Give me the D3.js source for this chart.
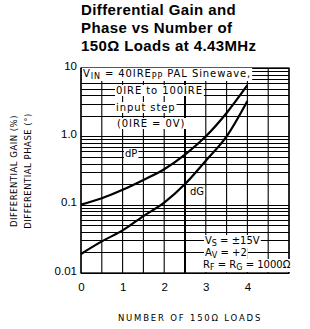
<!DOCTYPE html>
<html>
<head>
<meta charset="utf-8">
<script src="https://cdn.jsdelivr.net/npm/d3@7"></script>
<style>
  body { margin: 0; background: #fff; }
  svg { display: block; }
  .tick text { font-family: "Liberation Sans", Arial, sans-serif; }
</style>
</head>
<body>
<script>
// data
var loads = [0, 0.5, 1, 1.5, 2, 2.5, 3, 3.5, 4];
var dP = [0.1, 0.124, 0.165, 0.23, 0.33, 0.54, 1.0, 2.2, 5.6];
var dG = [0.019, 0.029, 0.042, 0.068, 0.107, 0.2, 0.44, 1.0, 3.3];
var xTicks = [0, 1, 2, 3, 4];
var yTicks = [0.01, 0.1, 1, 10];
var yTickLabels = ["0.01", "0.1", "1.0", "10"];

var W = 310, H = 329;
var margin = {top: 68, right: 21, bottom: 56, left: 81};
var width = W - margin.left - margin.right,
    height = H - margin.top - margin.bottom;

var svg = d3.select("body").append("svg")
    .attr("width", W).attr("height", H);

var g = svg.append("g")
    .attr("transform", "translate(" + margin.left + "," + margin.top + ")");

var x = d3.scaleLinear().domain([0, 5]).range([0, width]);
var y = d3.scaleLog().domain([0.01, 10]).range([height, 0]);

var techFont = "'DejaVu Sans', sans-serif";

// title
var title = ["Differential Gain and", "Phase vs Number of", "150\u03A9 Loads at 4.43MHz"];
svg.append("g").selectAll("text")
    .data(title).enter().append("text")
    .attr("x", 81)
    .attr("y", function(d, i) { return 15 + i * 18; })
    .style("font-family", "'Liberation Sans', Arial, sans-serif")
    .style("font-weight", "bold")
    .style("font-size", "15px")
    .style("letter-spacing", "0.4px")
    .text(function(d) { return d; });

// grid - vertical every 0.5
var vLines = d3.range(0, 5.01, 0.5);
g.selectAll(".vgrid").data(vLines).enter().append("line")
    .attr("x1", function(d) { return x(d); })
    .attr("x2", function(d) { return x(d); })
    .attr("y1", 0).attr("y2", height)
    .attr("stroke", "#000")
    .attr("stroke-width", function(d) { return d == 2.5 ? 2 : 1.1; });

// grid - horizontal log minors
var hLines = [];
[0.01, 0.1, 1].forEach(function(dec) {
    for (var k = 1; k <= 9; k++) hLines.push(dec * k);
});
hLines.push(10);
g.selectAll(".hgrid").data(hLines).enter().append("line")
    .attr("x1", 0).attr("x2", width)
    .attr("y1", function(d) { return Math.round(y(d)) + 0.5; })
    .attr("y2", function(d) { return Math.round(y(d)) + 0.5; })
    .attr("stroke", "#000")
    .attr("stroke-width", 1);

// frame
g.append("rect")
    .attr("width", width).attr("height", height)
    .attr("fill", "none").attr("stroke", "#000").attr("stroke-width", 1.3);

// helper: text line with white mask behind it
function maskedText(parent, xx, yy, parts, size, spacing) {
    var grp = parent.append("g");
    var bg = grp.append("rect").attr("fill", "#fff");
    var t = grp.append("text")
        .attr("x", xx).attr("y", yy)
        .style("font-family", techFont)
        .style("font-size", size + "px")
        .style("letter-spacing", (spacing || 0) + "px");
    parts.forEach(function(p) {
        var ts = t.append("tspan").text(p.t);
        if (p.sub) ts.attr("dy", 2).style("font-size", (size - 2) + "px");
        if (p.back) ts.attr("dy", -2);
    });
    var b = t.node().getBBox();
    bg.attr("x", b.x - 1).attr("y", b.y).attr("width", b.width + 2).attr("height", b.height);
    return grp;
}

// curves
var line = d3.line()
    .curve(d3.curveMonotoneX)
    .x(function(d, i) { return x(loads[i]); })
    .y(function(d) { return y(d); });

// labels on curves
maskedText(g, 44, 89, [{t: "dP"}], 10);
maskedText(g, 109, 127, [{t: "dG"}], 10);

g.append("path").datum(dP)
    .attr("d", line)
    .attr("fill", "none").attr("stroke", "#000").attr("stroke-width", 2.2);
g.append("path").datum(dG)
    .attr("d", line)
    .attr("fill", "none").attr("stroke", "#000").attr("stroke-width", 2.2);

// annotation top-left
maskedText(g, 2, 9, [{t: "V"}, {t: "IN", sub: true}, {t: " = 40IRE", back: true}, {t: "PP", sub: true}, {t: " PAL Sinewave,", back: true}], 10, 0.9);
maskedText(g, 35, 26, [{t: "0IRE to 100IRE"}], 10, 0.9);
maskedText(g, 35, 43, [{t: "input step"}], 10, 0.9);
maskedText(g, 36, 59, [{t: "(0IRE = 0V)"}], 10, 0.9);

// annotation bottom-right
maskedText(g, 124, 176, [{t: "V"}, {t: "S", sub: true}, {t: " = \u00B115V", back: true}], 10);
maskedText(g, 124, 188, [{t: "A"}, {t: "V", sub: true}, {t: " = +2", back: true}], 10);
maskedText(g, 122, 200, [{t: "R"}, {t: "F", sub: true}, {t: " = R", back: true}, {t: "G", sub: true}, {t: " = 1000\u03A9", back: true}], 10);

// axes
var xAxis = g.append("g")
    .attr("transform", "translate(0," + height + ")")
    .call(d3.axisBottom(x).tickValues(xTicks).tickSize(0).tickPadding(10)
        .tickFormat(d3.format("d")));
xAxis.select(".domain").remove();
xAxis.selectAll("text").style("font-size", "11.5px").attr("fill", "#000");

var yAxis = g.append("g")
    .call(d3.axisLeft(y).tickValues(yTicks).tickSize(0).tickPadding(4)
        .tickFormat(function(d, i) { return yTickLabels[i]; }));
yAxis.select(".domain").remove();
yAxis.selectAll("text").style("font-size", "11.5px").attr("fill", "#000")
    .attr("dy", "0.1em");

// axis titles
svg.append("text")
    .attr("x", 190).attr("y", 321)
    .attr("text-anchor", "middle")
    .style("font-family", techFont)
    .style("font-size", "8.5px")
    .style("letter-spacing", "1.8px")
    .text("NUMBER OF 150\u03A9 LOADS");

svg.append("text")
    .attr("transform", "translate(17,171) rotate(-90)")
    .attr("text-anchor", "middle")
    .style("font-family", techFont)
    .style("font-size", "8.5px")
    .style("letter-spacing", "0.5px")
    .text("DIFFERENTIAL GAIN (%)");

svg.append("text")
    .attr("transform", "translate(31,171) rotate(-90)")
    .attr("text-anchor", "middle")
    .style("font-family", techFont)
    .style("font-size", "8.5px")
    .style("letter-spacing", "0.5px")
    .text("DIFFERENTIAL PHASE (\u00B0)");
</script>
</body>
</html>
